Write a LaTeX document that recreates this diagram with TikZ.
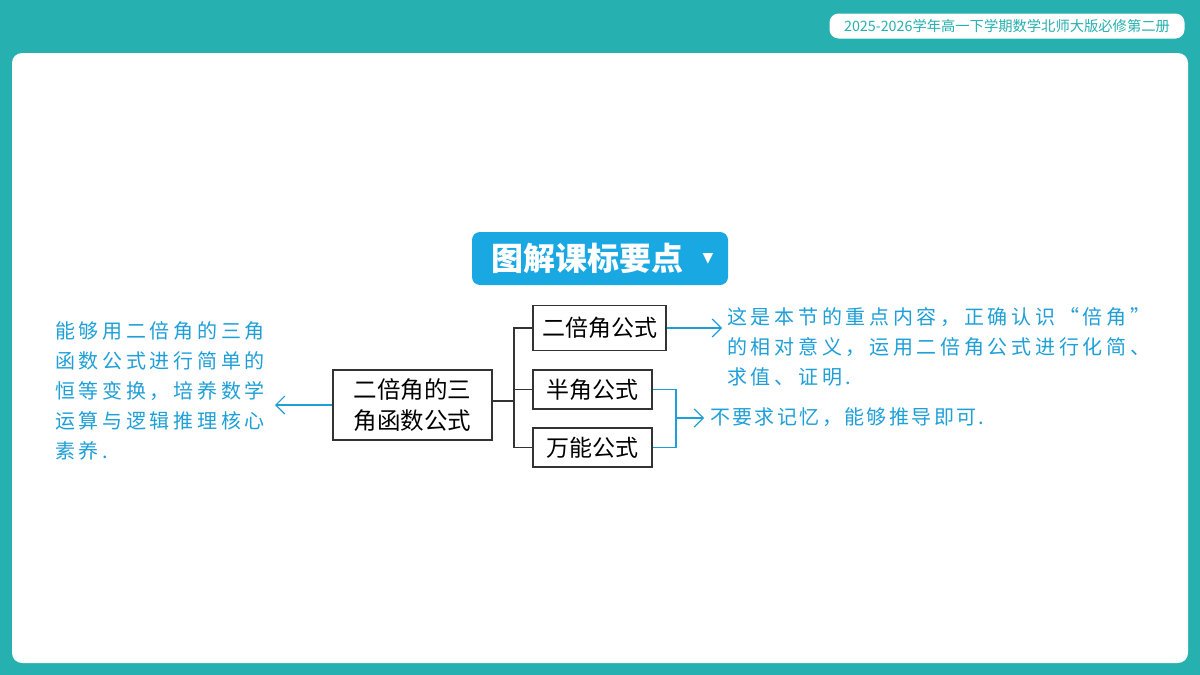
\documentclass[tikz,border=0pt]{standalone}
\usepackage{fontspec}
\setmainfont{Noto Sans CJK SC}
\newfontfamily\cjk{Noto Sans CJK SC}
\newfontfamily\cjkhand[LetterSpace=18.5]{Noto Sans CJK SC}
\newfontfamily\cjkhandb[LetterSpace=12]{Noto Sans CJK SC}
\newfontfamily\dejavu{DejaVu Sans}
\usetikzlibrary{arrows.meta}
\definecolor{teal1}{HTML}{26B0AF}
\definecolor{btnblue}{HTML}{1AA8E2}
\definecolor{hand}{HTML}{1E9FD8}
\definecolor{frame}{HTML}{333333}
\tikzset{
  box/.style={draw=frame, line width=1.3pt, fill=white, inner sep=0pt},
  link/.style={draw=frame, line width=1.3pt},
  blink/.style={draw=hand, line width=1.2pt},
  barrow/.style={blink, -{Straight Barb[length=9pt,width=18pt,line width=1.2pt]}},
  handtxt/.style={text=hand, font=\cjkhand\fontsize{20}{30}\selectfont, align=left, anchor=north west, inner sep=0pt},
}
\begin{document}
\begin{tikzpicture}[x=1pt,y=-1pt]
\useasboundingbox (0,0) rectangle (1200,675);
\fill[teal1] (0,0) rectangle (1200,675);
\fill[white, rounded corners=10pt] (12,53) rectangle (1188,663);
% header tag
\node[fill=white, rounded corners=9pt, minimum width=355pt, minimum height=25pt, inner sep=0pt, text=teal1, font=\cjk\fontsize{14.3}{16}\selectfont] (hdr) at (1007,26) {2025-2026学年高一下学期数学北师大版必修第二册};
% title button
\node[fill=btnblue, rounded corners=8pt, minimum width=256pt, minimum height=53pt, inner sep=0pt] (title) at (600,258.5) {};
\node[text=white, font=\cjk\bfseries\fontsize{32}{36}\selectfont, anchor=center, inner sep=0pt] (ttxt) at (587,258.5) {图解课标要点};
\node[text=white, font=\dejavu\fontsize{14}{14}\selectfont, inner sep=0pt] (tri) at (708,259) {▼};
% boxes
\node[box, minimum width=159pt, minimum height=70pt, align=center, font=\cjk\fontsize{23.5}{31}\selectfont] (c) at (412.5,405) {二倍角的三\\角函数公式};
\node[box, minimum width=133pt, minimum height=45pt, font=\cjk\fontsize{23}{25}\selectfont] (b1) at (599.5,328) {二倍角公式};
\node[box, minimum width=119pt, minimum height=39pt, font=\cjk\fontsize{23}{25}\selectfont] (b2) at (592.5,389.5) {半角公式};
\node[box, minimum width=119pt, minimum height=39pt, font=\cjk\fontsize{23}{25}\selectfont] (b3) at (592.5,447.5) {万能公式};
\coordinate (j) at (514,401);
\draw[link] (c.east |- j) -- (j);
\draw[link] (b1.west) -| (j) |- (b3.west);
\draw[link] (j |- b2.west) -- (b2.west);
% blue connectors
\coordinate (a1) at (722,328);
\draw[barrow] (b1.east) -- (a1);
\coordinate (k) at (676,418);
\coordinate (a2) at (704,418);
\draw[blink] (b2.east) -| (k) |- (b3.east);
\draw[barrow] (k) -- (a2);
\coordinate (a3) at (275,405);
\draw[barrow] (c.west |- a3) -- (a3);
% texts
\node[handtxt] (lt) at (55,321) {能够用二倍角的三角\\函数公式进行简单的\\恒等变换，培养数学\\运算与逻辑推理核心\\素养.};
\node[handtxt] (rt) at (727,307) {这是本节的重点内容，正确认识“倍角”\\的相对意义，运用二倍角公式进行化简、\\求值、证明.};
\node[handtxt, anchor=west, font=\cjkhandb\fontsize{20}{30}\selectfont] (rt2) at (710,417) {不要求记忆，能够推导即可.};
\end{tikzpicture}
\end{document}
